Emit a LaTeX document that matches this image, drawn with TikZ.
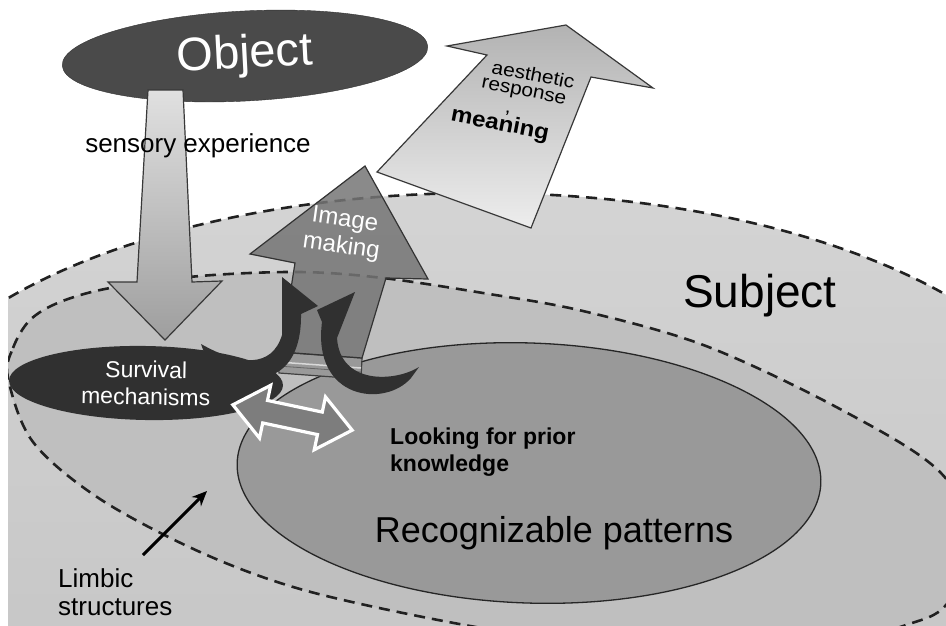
\documentclass[tikz,border=0pt]{standalone}
\usepackage{fontspec}
\setmainfont{Liberation Sans}
\usetikzlibrary{arrows.meta,shapes.geometric}
\definecolor{subjtop}{gray}{0.83}
\definecolor{subjbot}{gray}{0.77}
\definecolor{limbfill}{gray}{0.75}
\definecolor{recfill}{gray}{0.60}
\definecolor{objfill}{gray}{0.29}
\definecolor{survfill}{gray}{0.19}
\definecolor{imgfill}{gray}{0.46}
\definecolor{swooshfill}{gray}{0.19}
\definecolor{dblfill}{gray}{0.49}
\definecolor{dashcol}{gray}{0.13}
\definecolor{edgecol}{gray}{0.22}
\tikzset{
  regionline/.style={draw=dashcol, line width=2.6pt, dash pattern=on 11pt off 7pt},
  bigarrow/.style={draw=edgecol, line width=1.2pt, line join=miter},
  swoosh/.style={fill=swooshfill},
  darkoval/.style={ellipse, inner sep=0pt, text=white, align=center},
  label/.style={inner sep=0pt, text=black}
}
\begin{document}
\begin{tikzpicture}[x=1pt,y=-1pt]
\useasboundingbox (0,0) rectangle (946,625);
\coordinate (subjc) at (480,468);
% Subject and limbic regions
\begin{scope}
  \clip (8,0) rectangle (946,625);
  \shade[top color=subjtop, bottom color=subjbot] (subjc) ellipse [x radius=600pt, y radius=275pt];
  \draw[regionline] (subjc) ellipse [x radius=600pt, y radius=275pt];
  \path[regionline, fill=limbfill] plot[smooth cycle, tension=0.55] coordinates {
    (8,378) (13,348) (30,320) (60,302) (110,288) (200,276) (300,272) (383,278)
    (483,293) (583,311) (706,346) (840,409) (940,472) (975,545) (946,605)
    (906,625) (830,645) (700,652) (560,640) (433,619) (300,589) (200,552)
    (100,499) (33,442)};
\end{scope}
% Recognizable patterns
\node[ellipse, draw=black!85, line width=1.3pt, fill=recfill, minimum width=584pt, minimum height=260pt, inner sep=0pt, rotate=-2] (recog) at (529,473) {};
% aesthetic response arrow
\path[bigarrow, top color=black!30, bottom color=black!7]
  (566,25) -- (653,88) -- (591,77) -- (531,228) -- (377,172) -- (487,55) -- (447,46) -- cycle;
% Object
\node[darkoval, fill=objfill, draw=black!80, minimum width=366pt, minimum height=90pt, rotate=3,
      font=\fontsize{47}{52}\selectfont] (object) at (245,56) {Object};
% sensory experience arrow
\path[bigarrow, top color=black!12, bottom color=black!38]
  (148,90) -- (183,90) -- (192,282) -- (222,281) -- (165,340) -- (108,282) -- (137,282) -- cycle;
% Survival mechanisms
\node[darkoval, fill=survfill, minimum width=274pt, minimum height=74pt, rotate=-1,
      font=\fontsize{23}{27}\selectfont] (survival) at (146,383) {Survival\\mechanisms};
% Image making arrow
\path[draw=black!75, line width=1.2pt, fill=black!40, line join=miter]
  (277,352) -- (362,358) -- (361,379) -- (279,373) -- cycle;
\draw[white!85!black, line width=1.5pt] (278,362) -- (361,368);
\draw[black!60, line width=0.8pt] (278,366) -- (361,372);
\path[draw=black!80, line width=1.2pt, fill=imgfill, fill opacity=0.85, line join=miter]
  (365,166) -- (428,279) -- (386,278) -- (362,358) -- (281,352) -- (295,263) -- (250,254) -- cycle;
% swoosh arrows
\path[swoosh] (201,344) .. controls (240,366) and (272,368) .. (282,335)
  -- (282,277) -- (318,306) -- (301,314)
  .. controls (302,385) and (250,392) .. (206,358) -- cycle;
\path[swoosh] (419,367) .. controls (395,382) and (340,385) .. (337,338)
  -- (355,292) -- (317,310) -- (322,322)
  .. controls (312,400) and (385,408) .. (411,378) -- cycle;
% double arrow
\begin{scope}[shift={(292.5,417.5)}, rotate=-12]
  \path[draw=white, line width=3.2pt, fill=dblfill, line join=miter]
    (-61,0) -- (-28,-27) -- (-28,-11.5) -- (28,-11.5) -- (28,-27) -- (61,0)
    -- (28,27) -- (28,11.5) -- (-28,11.5) -- (-28,27) -- cycle;
\end{scope}
% texts
\node[label, anchor=base, font=\fontsize{26}{30}\selectfont] (sensory) at (198,152) {sensory experience};
\node[label, anchor=base, font=\fontsize{46}{52}\selectfont] (subject) at (760,307) {Subject};
\node[label, anchor=base, font=\fontsize{36}{40}\selectfont] (recogtext) at (554,542) {Recognizable patterns};
\node[label, anchor=north west, align=left, font=\bfseries\fontsize{23}{27}\selectfont] (looking) at (390,428) {Looking for prior\\knowledge};
\node[label, anchor=north west, align=left, font=\fontsize{26}{28}\selectfont] (limbic) at (58,568) {Limbic\\structures};
\node[label, text=white, align=center, rotate=-8, font=\fontsize{24}{27}\selectfont] (imgtext) at (343,234) {Image\\making};
\begin{scope}[shift={(532,81)}, rotate=-11, transform shape]
  \node[label, anchor=base, xscale=1.1, font=\fontsize{19}{20}\selectfont] (aesthetic) at (-15.5,54.8)
    {\vbox{\baselineskip=16.6pt\lineskiplimit=-100pt
      \hbox{\hspace*{28.2pt}aesthetic}
      \hbox{\hspace*{21.7pt}response}
      \vskip3.2pt
      \hbox{\hspace*{47.2pt},}
      \vskip1.8pt
      \hbox{\bfseries\fontsize{22}{24}\selectfont meaning}}};
\end{scope}
% limbic pointer
\coordinate (limbtail) at (143,555);
\coordinate (limbhead) at (207,491);
\draw[line width=3pt, -{Stealth[length=15pt, width=13pt]}] (limbtail) -- (limbhead);
\end{tikzpicture}
\end{document}
